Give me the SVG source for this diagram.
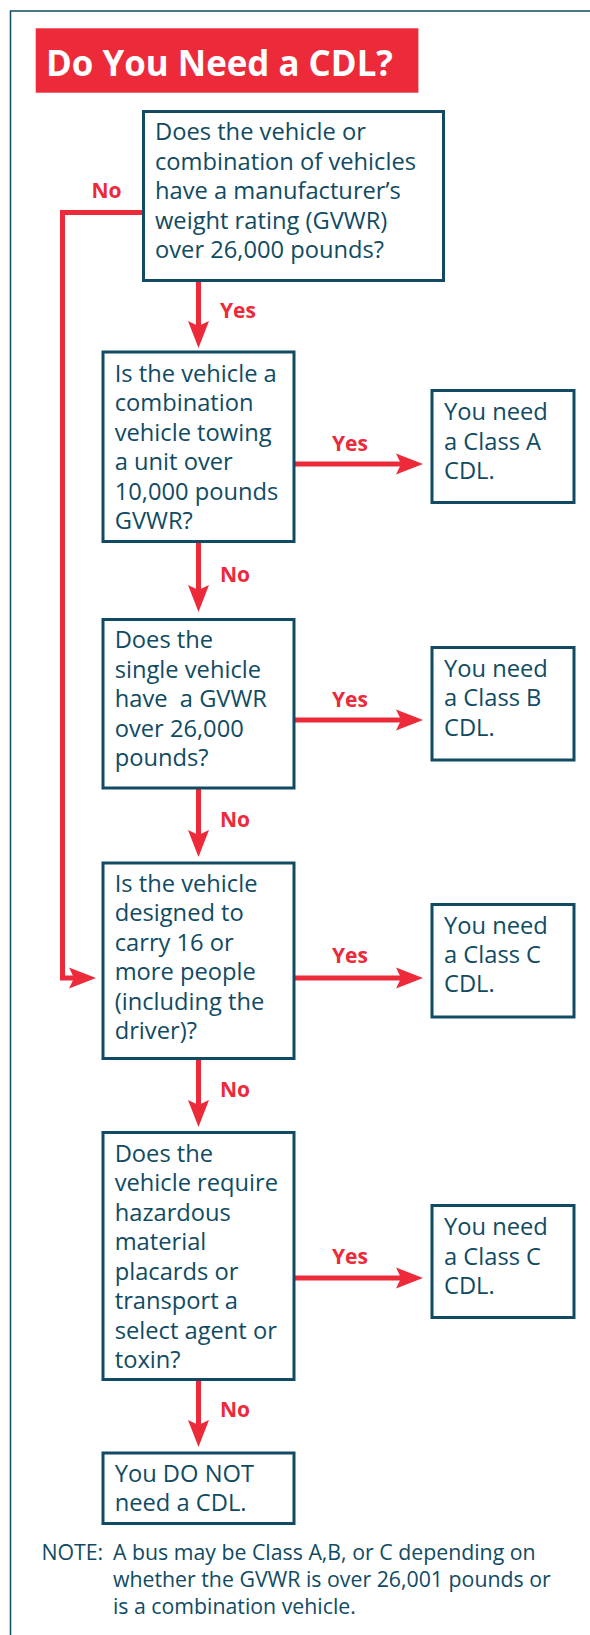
<svg xmlns="http://www.w3.org/2000/svg" width="590" height="1635" viewBox="0 0 590 1635">
<defs>
<style>
.box{fill:#ffffff;stroke:#104b63;stroke-width:3}
.t{font-family:"Open Sans","Noto Sans","Liberation Sans",sans-serif;font-size:23.7px;fill:#104b63}
.note{font-family:"Open Sans","Noto Sans","Liberation Sans",sans-serif;font-size:21.3px;fill:#104b63}
.lbl{font-family:"Open Sans","Noto Sans","Liberation Sans",sans-serif;font-size:21px;font-weight:bold;fill:#ec2a3a}
.title{font-family:"Open Sans","Noto Sans","Liberation Sans",sans-serif;font-size:36px;font-weight:bold;fill:#ffffff}
.c{fill:none;stroke:#ec2a3a;stroke-width:5}
</style>
<marker id="ah" markerUnits="userSpaceOnUse" markerWidth="27" markerHeight="21" refX="5" refY="10.5" orient="auto" overflow="visible">
<path d="M0,0 L27,10.5 L0,21 L5,10.5 Z" fill="#ec2a3a"/>
</marker>
</defs>
<rect width="590" height="1635" fill="#ffffff"/>
<path d="M10.5,1635 V11 H590" fill="none" stroke="#104b63" stroke-width="1.5"/>
<g id="title">
<rect x="35.7" y="28.3" width="382.7" height="64.4" fill="#ec2a3a"/>
<text class="title" x="46" y="76" textLength="347" lengthAdjust="spacingAndGlyphs">Do You Need a CDL?</text>
</g>
<g id="connectors">
<path class="c" d="M142,212.5 H62.5 V978 H74" stroke-linejoin="miter" marker-end="url(#ah)"/>
<path class="c" d="M198.5,282 V326" marker-end="url(#ah)"/>
<path class="c" d="M198.5,543 V590" marker-end="url(#ah)"/>
<path class="c" d="M198.5,789 V835" marker-end="url(#ah)"/>
<path class="c" d="M198.5,1060 V1105" marker-end="url(#ah)"/>
<path class="c" d="M198.5,1381 V1425" marker-end="url(#ah)"/>
<path class="c" d="M295,464 H401" marker-end="url(#ah)"/>
<path class="c" d="M295,720 H401" marker-end="url(#ah)"/>
<path class="c" d="M295,978 H401" marker-end="url(#ah)"/>
<path class="c" d="M295,1278 H401" marker-end="url(#ah)"/>
<text class="lbl" x="91.5" y="198">No</text>
<text class="lbl" x="220" y="318">Yes</text>
<text class="lbl" x="220" y="582">No</text>
<text class="lbl" x="220" y="827">No</text>
<text class="lbl" x="220" y="1097">No</text>
<text class="lbl" x="220" y="1417">No</text>
<text class="lbl" x="332" y="451">Yes</text>
<text class="lbl" x="332" y="707">Yes</text>
<text class="lbl" x="332" y="963">Yes</text>
<text class="lbl" x="332" y="1264">Yes</text>
</g>
<g id="q1">
<rect class="box" x="143.5" y="111.5" width="300" height="169"/>
<text class="t" x="155"><tspan x="155" y="140">Does the vehicle or</tspan><tspan x="155" y="170">combination of vehicles</tspan><tspan x="155" y="199">have a manufacturer’s</tspan><tspan x="155" y="229">weight rating (GVWR)</tspan><tspan x="155" y="258">over 26,000 pounds?</tspan></text>
</g>
<g id="q2">
<rect class="box" x="103" y="352" width="191" height="189.5"/>
<text class="t"><tspan x="114.7" y="382">Is the vehicle a</tspan><tspan x="114.7" y="411">combination</tspan><tspan x="114.7" y="441">vehicle towing</tspan><tspan x="114.7" y="470">a unit over</tspan><tspan x="114.7" y="500">10,000 pounds</tspan><tspan x="114.7" y="529">GVWR?</tspan></text>
</g>
<g id="classA">
<rect class="box" x="432" y="390.5" width="142" height="112"/>
<text class="t"><tspan x="444" y="420">You need</tspan><tspan x="444" y="449.5">a Class A</tspan><tspan x="444" y="479">CDL.</tspan></text>
</g>
<g id="q3">
<rect class="box" x="103" y="619.5" width="191" height="168.5"/>
<text class="t"><tspan x="114.7" y="648">Does the</tspan><tspan x="114.7" y="678">single vehicle</tspan><tspan x="114.7" y="707" xml:space="preserve">have  a GVWR</tspan><tspan x="114.7" y="737">over 26,000</tspan><tspan x="114.7" y="766">pounds?</tspan></text>
</g>
<g id="classB">
<rect class="box" x="432" y="647.5" width="142" height="112.5"/>
<text class="t"><tspan x="444" y="677">You need</tspan><tspan x="444" y="706">a Class B</tspan><tspan x="444" y="735.5">CDL.</tspan></text>
</g>
<g id="q4">
<rect class="box" x="103" y="863" width="191" height="195.5"/>
<text class="t"><tspan x="114.7" y="892">Is the vehicle</tspan><tspan x="114.7" y="921">designed to</tspan><tspan x="114.7" y="951">carry 16 or</tspan><tspan x="114.7" y="980">more people</tspan><tspan x="114.7" y="1010">(including the</tspan><tspan x="114.7" y="1039">driver)?</tspan></text>
</g>
<g id="classC1">
<rect class="box" x="432" y="904.5" width="142" height="112.5"/>
<text class="t"><tspan x="444" y="933.5">You need</tspan><tspan x="444" y="963">a Class C</tspan><tspan x="444" y="992">CDL.</tspan></text>
</g>
<g id="q5">
<rect class="box" x="103" y="1132.5" width="191" height="247"/>
<text class="t"><tspan x="114.7" y="1162">Does the</tspan><tspan x="114.7" y="1191">vehicle require</tspan><tspan x="114.7" y="1221">hazardous</tspan><tspan x="114.7" y="1250">material</tspan><tspan x="114.7" y="1280">placards or</tspan><tspan x="114.7" y="1309">transport a</tspan><tspan x="114.7" y="1339">select agent or</tspan><tspan x="114.7" y="1368">toxin?</tspan></text>
</g>
<g id="classC2">
<rect class="box" x="432" y="1205.5" width="142" height="112"/>
<text class="t"><tspan x="444" y="1235">You need</tspan><tspan x="444" y="1264.5">a Class C</tspan><tspan x="444" y="1293.5">CDL.</tspan></text>
</g>
<g id="noCDL">
<rect class="box" x="103" y="1453" width="191" height="70.5"/>
<text class="t"><tspan x="114.7" y="1482">You DO NOT</tspan><tspan x="114.7" y="1511">need a CDL.</tspan></text>
</g>
<g id="note">
<text class="note"><tspan x="41.4" y="1560">NOTE:</tspan><tspan x="112.9" y="1560">A bus may be Class A,B, or C depending on</tspan><tspan x="112.9" y="1587">whether the GVWR is over 26,001 pounds or</tspan><tspan x="112.9" y="1614">is a combination vehicle.</tspan></text>
</g>
</svg>
